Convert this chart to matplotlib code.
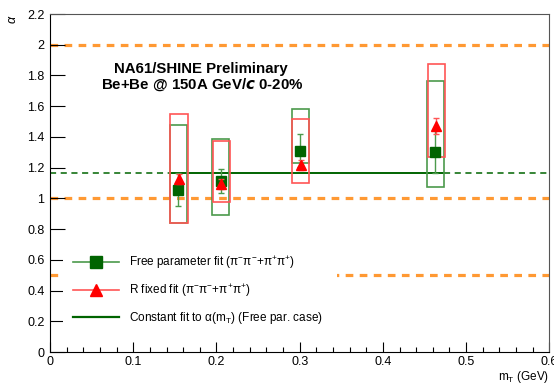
"""Femtoscopy Levy alpha vs m_T, Be+Be @ 150A GeV/c (NA61/SHINE preliminary)."""

import matplotlib
matplotlib.use("Agg")
import matplotlib.pyplot as plt
from matplotlib.patches import Rectangle
from matplotlib.lines import Line2D

plt.rcParams["font.family"] = ["Liberation Sans", "DejaVu Sans"]
plt.rcParams["mathtext.fontset"] = "custom"
plt.rcParams["mathtext.rm"] = "Liberation Sans"
plt.rcParams["mathtext.it"] = "Liberation Sans:italic"
plt.rcParams["mathtext.bf"] = "Liberation Sans:bold"

# --- data -----------------------------------------------------------------
mt = [0.154, 0.205, 0.3005, 0.463]

alpha_free = [1.055, 1.113, 1.31, 1.302]
alpha_free_err = [0.107, 0.075, 0.107, 0.14]
free_sys_lo = [0.84, 0.892, 1.228, 1.072]
free_sys_hi = [1.476, 1.384, 1.58, 1.764]

alpha_r = [1.126, 1.094, 1.217, 1.471]
alpha_r_err = [0.03, 0.03, 0.03, 0.055]
r_sys_lo = [0.838, 0.975, 1.098, 1.267]
r_sys_hi = [1.547, 1.376, 1.515, 1.873]

const_fit = 1.167
const_range = (0.144, 0.473)

ref_lines = [2.0, 1.0, 0.5]

GREEN = "#006400"
GREEN_LIGHT = "#4c9a4c"
RED = "#ff0000"
RED_LIGHT = "#ff5555"
ORANGE = "#ff9933"

fig = plt.figure(figsize=(5.54, 3.85), dpi=100)
ax = fig.add_axes([0.0903, 0.0857, 0.9012, 0.8779])
ax.set_xlim(0, 0.6)
ax.set_ylim(0, 2.2)

# orange reference lines
for y in ref_lines:
    ax.axhline(y, color=ORANGE, lw=2.3, dashes=(2.4, 2.0), zorder=1)

# constant fit: solid over data range, dashed elsewhere
ax.plot([0, const_range[0]], [const_fit, const_fit], color=GREEN, lw=1.1,
        dashes=(4, 3), zorder=2)
ax.plot([const_range[1], 0.6], [const_fit, const_fit], color=GREEN, lw=1.1,
        dashes=(4, 3), zorder=2)
ax.plot(const_range, [const_fit, const_fit], color=GREEN, lw=1.4, zorder=2)

# systematic boxes
hw = 0.0103
for x, lo, hi in zip(mt, free_sys_lo, free_sys_hi):
    ax.add_patch(Rectangle((x - hw, lo), 2 * hw, hi - lo, fill=False,
                           ec=GREEN_LIGHT, lw=1.2, zorder=3))
for x, lo, hi in zip(mt, r_sys_lo, r_sys_hi):
    ax.add_patch(Rectangle((x + 0.001 - hw, lo), 2 * hw, hi - lo, fill=False,
                           ec=RED_LIGHT, lw=1.2, zorder=3))

# data points
ax.errorbar(mt, alpha_free, yerr=alpha_free_err, fmt="s", color=GREEN,
            ecolor=GREEN_LIGHT, elinewidth=1.0, capsize=2, ms=7, zorder=5)
ax.errorbar([x + 0.001 for x in mt], alpha_r, yerr=alpha_r_err, fmt="^",
            color=RED, ecolor=RED_LIGHT, elinewidth=1.0, capsize=2, ms=7.5,
            zorder=6)

# axes styling (ROOT-like)
ax.set_xticks([0, 0.1, 0.2, 0.3, 0.4, 0.5, 0.6])
ax.set_xticklabels(["0", "0.1", "0.2", "0.3", "0.4", "0.5", "0.6"])
ax.set_xticks([i * 0.02 for i in range(31)], minor=True)
ax.set_yticks([0, 0.2, 0.4, 0.6, 0.8, 1.0, 1.2, 1.4, 1.6, 1.8, 2.0, 2.2])
ax.set_yticklabels(["0", "0.2", "0.4", "0.6", "0.8", "1", "1.2", "1.4",
                    "1.6", "1.8", "2", "2.2"])
ax.tick_params(axis="x", which="major", direction="in", length=7, width=0.8,
               labelsize=9, pad=3)
ax.tick_params(axis="x", which="minor", direction="in", length=3.5, width=0.8)
ax.tick_params(axis="y", which="major", direction="in", length=11, width=0.8,
               labelsize=9, pad=4)
for side in ["top", "right"]:
    ax.spines[side].set_color("#555555")

fig.text(0.991, 0.0, r"m$_{\rm T}$ (GeV)", ha="right", va="bottom",
         fontsize=8.5)
fig.text(0.024, 0.963, r"$\alpha$", ha="center", va="top", rotation=90,
         fontsize=9)

ax.text(0.181, 1.845, "NA61/SHINE Preliminary", ha="center", va="center",
        fontsize=10.8, fontweight="bold")
ax.text(0.183, 1.74, r"Be+Be @ 150A GeV/$\mathbfit{c}$ 0-20%", ha="center",
        va="center", fontsize=10.8, fontweight="bold")

handles = [
    Line2D([], [], color=GREEN_LIGHT, lw=1.2, marker="s", ms=8,
           mfc=GREEN, mec=GREEN),
    Line2D([], [], color=RED_LIGHT, lw=1.2, marker="^", ms=8,
           mfc=RED, mec=RED),
    Line2D([], [], color=GREEN, lw=1.6),
]
labels = [
    "Free parameter fit (π$^{-}$π$^{-}$+π$^{+}$π$^{+}$)",
    "R fixed fit (π$^{-}$π$^{-}$+π$^{+}$π$^{+}$)",
    r"Constant fit to α(m$_{\rm T}$) (Free par. case)",
]
leg = ax.legend(handles, labels, loc="upper left",
                bbox_to_anchor=(0.0255, 0.0, 0.55, 0.32), mode="expand",
                frameon=True, fancybox=False, fontsize=8.5, handlelength=3.9,
                labelspacing=0.97, borderpad=0.85, borderaxespad=0,
                handletextpad=0.85)
leg.get_frame().set_edgecolor("none")
leg.get_frame().set_facecolor("white")
leg.get_frame().set_alpha(1.0)
leg.set_zorder(10)

fig.savefig("out.png", dpi=100)
